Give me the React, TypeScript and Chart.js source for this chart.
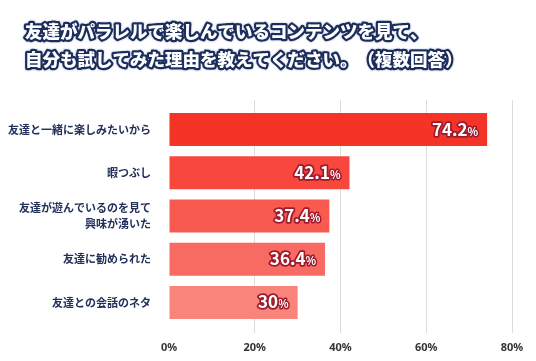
import React, { useEffect, useRef } from "react";
import { Chart, registerables } from "chart.js";

Chart.register(...registerables);

const titleLines = [
  "友達がパラレルで楽しんでいるコンテンツを見て、",
  "自分も試してみた理由を教えてください。（複数回答）",
];
const categories: (string | string[])[] = [
  "友達と一緒に楽しみたいから",
  "暇つぶし",
  ["友達が遊んでいるのを見て", "興味が湧いた"],
  "友達に勧められた",
  "友達との会話のネタ",
];
const values = [74.2, 42.1, 37.4, 36.4, 30];
const barColors = ["#F43427", "#F8483E", "#F95A4F", "#F86B62", "#F9847B"];
const xMin = 0;
const xMax = 80;
const xStep = 20;

const JP = "'Noto Sans CJK JP', 'Noto Sans', sans-serif";

const titlePlugin = {
  id: "outlinedTitle",
  afterDraw(chart: any) {
    const ctx = chart.ctx;
    ctx.save();
    ctx.font = `900 17.5px ${JP}`;
    ctx.textAlign = "left";
    ctx.textBaseline = "middle";
    ctx.lineJoin = "round";
    const ys = [31, 59];
    titleLines.forEach((line, i) => {
      const chars = Array.from(line);
      const xs: number[] = [];
      let x = 25;
      chars.forEach((ch) => {
        xs.push(x);
        x += ctx.measureText(ch).width;
      });
      const pass = (fn: (ch: string, px: number) => void) => chars.forEach((ch, k) => fn(ch, xs[k]));
      ctx.lineWidth = 7;
      ctx.strokeStyle = "rgba(220,226,240,0.6)";
      pass((ch, px) => ctx.strokeText(ch, px, ys[i]));
      ctx.lineWidth = 4.5;
      ctx.strokeStyle = "#1c2d5c";
      pass((ch, px) => ctx.strokeText(ch, px, ys[i]));
      ctx.fillStyle = "#ffffff";
      pass((ch, px) => ctx.fillText(ch, px, ys[i]));
    });
    ctx.restore();
  },
};

const valueLabelPlugin = {
  id: "valueLabels",
  afterDatasetsDraw(chart: any) {
    const ctx = chart.ctx;
    const meta = chart.getDatasetMeta(0);
    const data = chart.data.datasets[0].data as number[];
    ctx.save();
    ctx.lineJoin = "round";
    ctx.textBaseline = "alphabetic";
    ctx.textAlign = "right";
    meta.data.forEach((bar: any, i: number) => {
      const right = bar.x - 9;
      const base = bar.y + 6;
      const num = String(data[i]);
      ctx.font = `bold 11px ${JP}`;
      const pw = ctx.measureText("%").width;
      ctx.lineWidth = 3;
      ctx.strokeStyle = "#9e1a2c";
      ctx.strokeText("%", right, base);
      ctx.fillStyle = "#ffffff";
      ctx.fillText("%", right, base);
      ctx.font = `bold 17px ${JP}`;
      ctx.lineWidth = 3.5;
      ctx.strokeText(num, right - pw, base);
      ctx.fillText(num, right - pw, base);
    });
    ctx.restore();
  },
};

export default function App() {
  const ref = useRef<HTMLCanvasElement | null>(null);
  useEffect(() => {
    if (!ref.current) return;
    const gridColor = (c: any) => (c.tick && c.tick.value === 0 ? "rgba(0,0,0,0)" : "#dcdcdc");
    const chart = new Chart(ref.current, {
      type: "bar",
      data: {
        labels: categories as any,
        datasets: [
          {
            data: values,
            backgroundColor: barColors,
            borderWidth: 0,
            categoryPercentage: 1,
            barPercentage: 0.765,
          },
        ],
      },
      options: {
        indexAxis: "y",
        animation: false,
        responsive: false,
        maintainAspectRatio: false,
        layout: { padding: { top: 100, right: 24, bottom: 0, left: 0 } },
        plugins: { legend: { display: false }, tooltip: { enabled: false }, title: { display: false } },
        scales: {
          x: {
            type: "linear",
            position: "bottom",
            min: xMin,
            max: xMax,
            border: { display: false },
            grid: { color: gridColor, lineWidth: 1, drawTicks: true, tickLength: 9 },
            afterFit: (scale: any) => {
              scale.height = 37;
            },
            ticks: {
              stepSize: xStep,
              padding: 8,
              color: "#333333",
              font: { family: "'Noto Sans', sans-serif", size: 11, weight: "bold" },
              callback: (v: any) => `${v}%`,
            },
          },
          xTop: {
            type: "linear",
            axis: "x",
            position: "top",
            min: xMin,
            max: xMax,
            border: { display: false },
            grid: { color: gridColor, drawOnChartArea: false, drawTicks: true, tickLength: 8 },
            ticks: { display: false, stepSize: xStep },
          },
          y: {
            type: "category",
            border: { display: false },
            grid: { display: false, drawTicks: false },
            afterFit: (scale: any) => {
              scale.width = 169;
            },
            ticks: {
              padding: 18,
              color: "#22305a",
              font: { family: JP, size: 11, weight: "bold", lineHeight: 1.5 },
            },
          },
        } as any,
      },
      plugins: [titlePlugin, valueLabelPlugin],
    });
    return () => chart.destroy();
  }, []);
  return (
    <div style={{ position: "absolute", left: 0, top: 0, width: 536, height: 361, background: "#fff" }}>
      <canvas ref={ref} width={536} height={361} />
    </div>
  );
}
